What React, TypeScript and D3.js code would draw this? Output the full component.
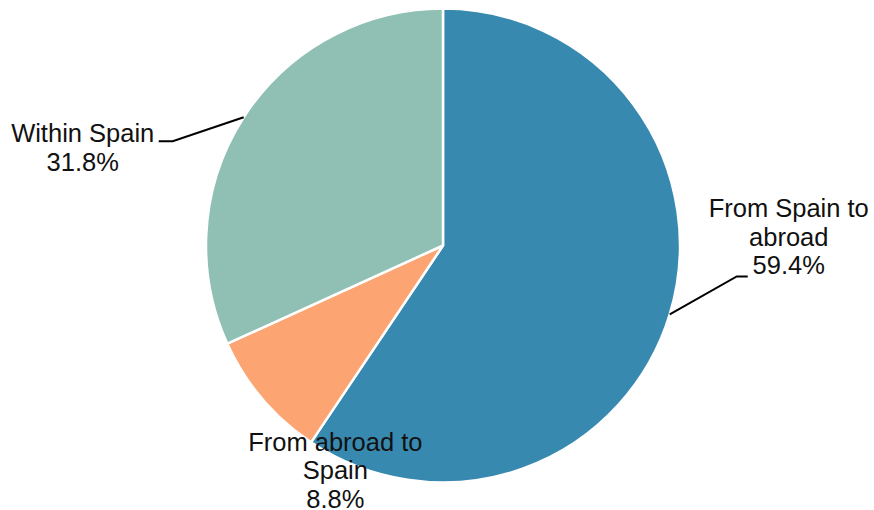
import React from "react";
import * as d3 from "d3";

const categories = ["From Spain to abroad", "From abroad to Spain", "Within Spain"];
const values = [59.4, 8.8, 31.8];
const labelLines = [["From Spain to", "abroad", "59.4%"], ["From abroad to", "Spain", "8.8%"], ["Within Spain", "31.8%"]];
const colors = ["#3889b0", "#fca573", "#8fc0b3"];

const W = 874, H = 510;
const cx = 443, cy = 245.5, R = 237;
const FS = 25.5, LH = 28.5;

export default function App() {
  const pie = d3.pie<number>().sort(null).value(d => d);
  const arcs = pie(values);
  const arc = d3.arc<d3.PieArcDatum<number>>().innerRadius(0).outerRadius(R);
  const mid = (a: d3.PieArcDatum<number>) => (a.startAngle + a.endAngle) / 2;
  const pt = (ang: number, r: number) => [r * Math.sin(ang), -r * Math.cos(ang)];

  const layouts = [
    { line: [[67, -38], [78, -38]], text: [119, -97], anchor: "middle" },
    { line: null, text: [73, 52], anchor: "middle" },
    { line: [[-71, 24], [-85, 24]], text: [-161, 25], anchor: "middle" },
  ];

  return (
    <svg width={W} height={H} style={{ position: "absolute", left: 0, top: 0 }} fontFamily="'Liberation Sans', Arial, sans-serif">
      <rect width={W} height={H} fill="#fff" />
      <g transform={`translate(${cx},${cy})`}>
        {arcs.map((a, i) => (
          <path key={categories[i]} d={arc(a) || ""} fill={colors[i]} stroke="#fff" strokeWidth={2.5} strokeLinejoin="round" />
        ))}
        {arcs.map((a, i) => {
          const [px, py] = pt(mid(a), R);
          const L = layouts[i];
          const tx = px + L.text[0], ty = py + L.text[1];
          const lines = labelLines[i];
          return (
            <g key={"l" + i}>
              {L.line && (
                <polyline
                  points={[[px, py], [px + L.line[0][0], py + L.line[0][1]], [px + L.line[1][0], py + L.line[1][1]]].map(p => p.join(",")).join(" ")}
                  fill="none" stroke="#000" strokeWidth={2}
                />
              )}
              <text x={tx} y={ty} textAnchor={L.anchor as any} fontSize={FS} fill="#111">
                {lines.map((s, j) => (
                  <tspan key={j} x={tx} dy={j === 0 ? 0 : LH}>{s}</tspan>
                ))}
              </text>
            </g>
          );
        })}
      </g>
    </svg>
  );
}
